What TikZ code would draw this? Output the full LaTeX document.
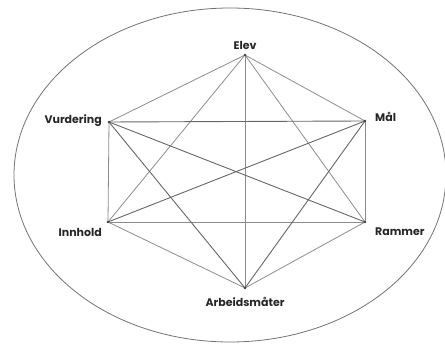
\documentclass[tikz,border=0pt]{standalone}
\usepackage{fontspec}
\setmainfont{Poppins}
\begin{document}
\begin{tikzpicture}[x=1pt,y=-1pt,
  edge/.style={draw=black!45,line width=0.8pt},
  darkedge/.style={draw=black!60,line width=0.9pt},
  lbl/.style={font=\fontsize{11}{13}\selectfont\bfseries,text=black!85,inner sep=0pt},
  vdot/.style={fill=black!75}]
\useasboundingbox (0,0) rectangle (445,344);
\draw[black!55,line width=0.8pt] (230,175) ellipse [x radius=216, y radius=167];
\coordinate (E) at (245,55);
\coordinate (V) at (109,122);
\coordinate (M) at (365,121);
\coordinate (I) at (108,222);
\coordinate (R) at (365,222);
\coordinate (A) at (245,288);
\foreach \a/\b in {E/V,E/M,E/I,E/R,E/A,V/I,M/R,I/R,I/A,R/A}
  \draw[edge] (\a) -- (\b);
\foreach \a/\b in {V/M,V/R,V/A,M/I,M/A}
  \draw[darkedge] (\a) -- (\b);
\foreach \p in {E,V,M,I,R,A}
  \fill[vdot] (\p) circle (1.3);
\node[lbl,anchor=south] (lE) at (245,50) {Elev};
\node[lbl,anchor=east] (lV) at (102,121) {Vurdering};
\node[lbl,anchor=west] (lM) at (375,117) {Mål};
\node[lbl,anchor=east] (lI) at (102,232) {Innhold};
\node[lbl,anchor=west] (lR) at (375,232) {Rammer};
\node[lbl] (lA) at (245,302) {Arbeidsmåter};
\end{tikzpicture}
\end{document}
